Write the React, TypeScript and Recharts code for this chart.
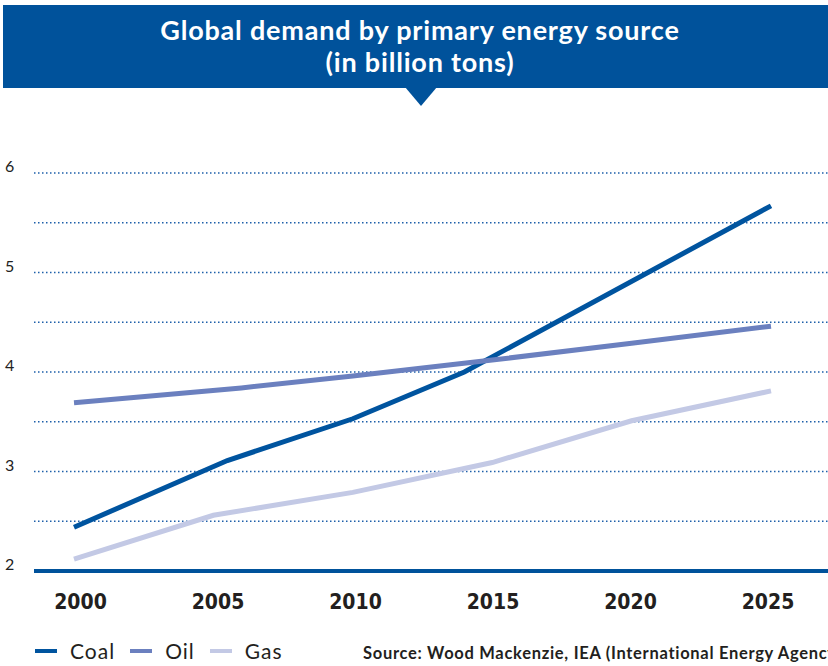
import { LineChart, Line, XAxis, YAxis, CartesianGrid } from "recharts";

// values
const coalYears = [2000, 2005.5, 2010, 2014, 2025];
const coalValues = [2.44, 3.11, 3.53, 4.0, 5.67];
const oilYears = [2000, 2006, 2010, 2015, 2020, 2025];
const oilValues = [3.69, 3.84, 3.96, 4.12, 4.29, 4.46];
const gasYears = [2000, 2005, 2010, 2015, 2020, 2025];
const gasValues = [2.12, 2.56, 2.79, 3.09, 3.51, 3.81];

const xTicks = [2000, 2005, 2010, 2015, 2020, 2025];
const yTicks = [2, 2.5, 3, 3.5, 4, 4.5, 5, 5.5, 6];

const BLUE = "#00529b";

const toRows = (years: number[], values: number[]) =>
  years.map((year, i) => ({ year, value: values[i] }));

const series = [
  { name: "Coal", color: "#00549f", data: toRows(coalYears, coalValues) },
  { name: "Oil", color: "#6b80bf", data: toRows(oilYears, oilValues) },
  { name: "Gas", color: "#c3c9e5", data: toRows(gasYears, gasValues) },
];

function XTick({ x, y, payload, index }: any) {
  return (
    <text
      x={x + 6.5 - 1.9 * index}
      y={y + 30}
      textAnchor="middle"
      fill="#231f20"
      fontSize={21}
      fontWeight={700}
      fontFamily="'DejaVu Sans Condensed', sans-serif"
    >
      {payload.value}
    </text>
  );
}

function YTick({ y, payload }: any) {
  if (!Number.isInteger(payload.value)) return null;
  return (
    <text x={5} y={y - 1} fill="#222" fontSize={16} fontFamily="Lato, sans-serif">
      {payload.value}
    </text>
  );
}

export default function App() {
  return (
    <div
      style={{
        position: "absolute",
        left: 0,
        top: 0,
        width: 828,
        height: 666,
        background: "#fff",
        fontFamily: "Lato, sans-serif",
        overflow: "hidden",
      }}
    >
      {/* title banner */}
      <div
        style={{
          position: "absolute",
          left: 3,
          top: 5,
          width: 825,
          height: 83,
          background: BLUE,
          color: "#fff",
          fontWeight: 700,
          fontSize: 27,
          lineHeight: "32px",
          textAlign: "center",
          paddingLeft: 9,
          boxSizing: "border-box",
          paddingTop: 9,
          letterSpacing: 0.8,
        }}
      >
        Global demand by primary energy source
        <br />
        (in billion tons)
      </div>
      <div
        style={{
          position: "absolute",
          left: 405,
          top: 87,
          width: 0,
          height: 0,
          borderLeft: "16px solid transparent",
          borderRight: "16px solid transparent",
          borderTop: `19px solid ${BLUE}`,
        }}
      />

      <LineChart
        width={828}
        height={666}
        margin={{ top: 173, right: 0, bottom: 55, left: 0 }}
      >
        <CartesianGrid
          vertical={false}
          stroke="#1d5fa9"
          strokeWidth={1.5}
          strokeDasharray="1.5 2.5"
        />
        <XAxis
          dataKey="year"
          type="number"
          domain={[2000, 2025]}
          ticks={xTicks}
          padding={{ left: 40, right: 57 }}
          height={40}
          tickLine={false}
          axisLine={{ stroke: BLUE, strokeWidth: 4 }}
          tick={<XTick />}
          allowDuplicatedCategory={false}
        />
        <YAxis
          type="number"
          domain={[2, 6]}
          ticks={yTicks}
          width={34}
          axisLine={false}
          tickLine={false}
          tick={<YTick />}
          interval={0}
        />
        {series.map((s) => (
          <Line
            key={s.name}
            data={s.data}
            dataKey="value"
            name={s.name}
            type="linear"
            stroke={s.color}
            strokeWidth={5}
            dot={false}
            activeDot={false}
            isAnimationActive={false}
          />
        ))}
      </LineChart>

      {/* legend */}
      <div style={{ position: "absolute", left: 35, top: 640, display: "flex", alignItems: "center" }}>
        {series.map((s) => (
          <div key={s.name} style={{ display: "flex", alignItems: "center", marginRight: 15 }}>
            <span style={{ width: 22, height: 4, background: s.color, display: "inline-block", marginRight: 13 }} />
            <span style={{ fontSize: 21, letterSpacing: 1, color: "#231f20", lineHeight: "22px" }}>{s.name}</span>
          </div>
        ))}
      </div>

      {/* source */}
      <div
        style={{
          position: "absolute",
          left: 363,
          top: 644,
          fontSize: 16.5,
          fontWeight: 700,
          letterSpacing: 0.7,
          color: "#231f20",
          whiteSpace: "nowrap",
          lineHeight: "18px",
        }}
      >
        Source: Wood Mackenzie, IEA (International Energy Agency)
      </div>
    </div>
  );
}
